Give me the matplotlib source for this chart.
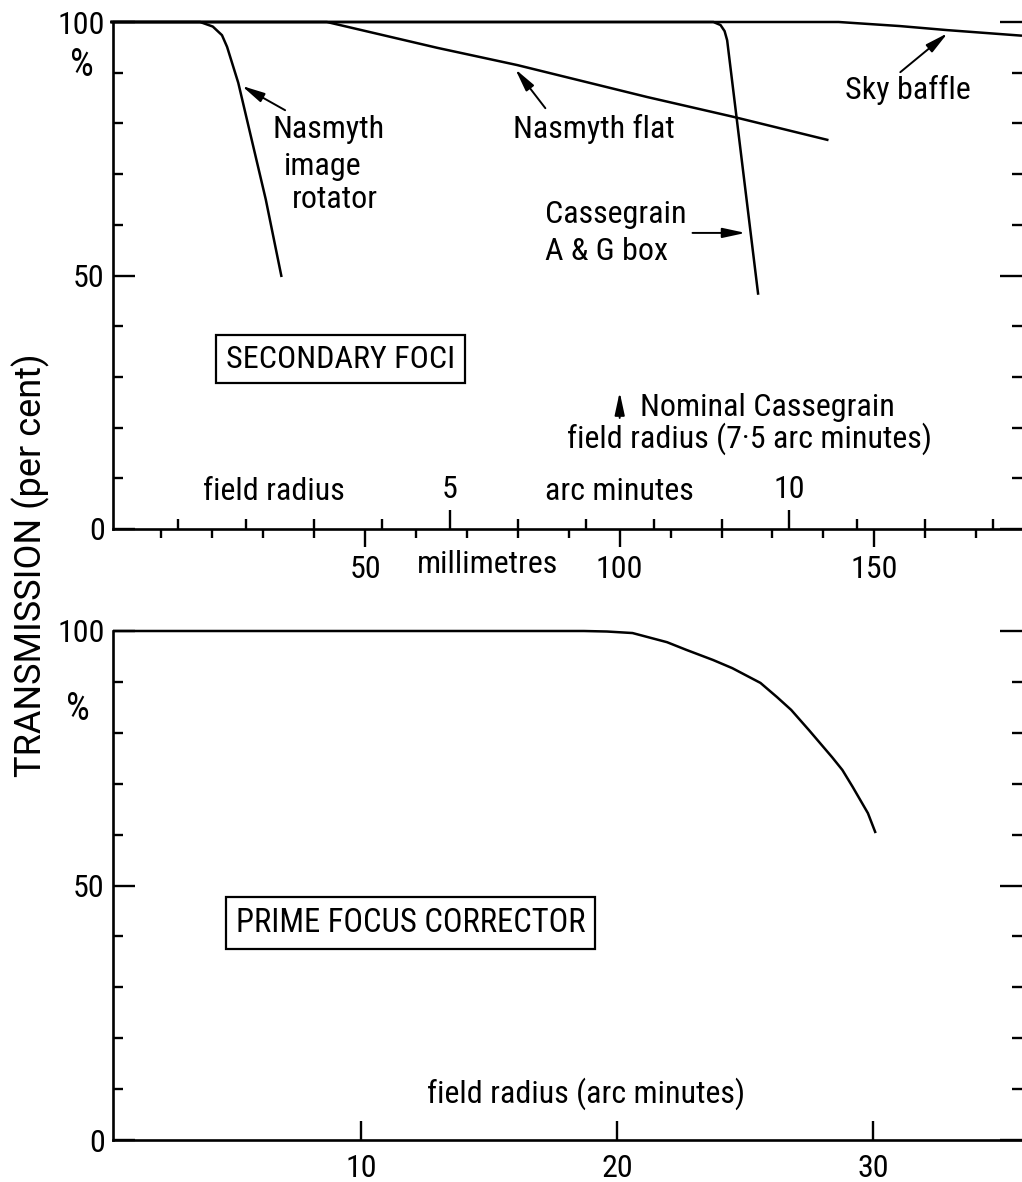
import matplotlib
matplotlib.use('Agg')
import matplotlib.pyplot as plt
from matplotlib import font_manager as fm
from matplotlib.ticker import MultipleLocator, FixedLocator, NullLocator


def font_available(name):
    try:
        fm.findfont(fm.FontProperties(family=name), fallback_to_default=False)
        return True
    except ValueError:
        return False


# pick the narrowest available sans face, with a size matching the drawing's lettering
for fam, fs in [('Liberation Sans Narrow', 23), ('Roboto Condensed', 23),
                ('Roboto', 21), ('DejaVu Sans', 19.5)]:
    if font_available(fam):
        FONT, FS = fam, fs
        break

# the vertical axis title is more widely set in the drawing
for fam, fs in [('Roboto', 26), ('DejaVu Sans', 25)]:
    if font_available(fam):
        YLAB_FONT, YLAB_FS = fam, fs
        break

plt.rcParams['font.family'] = [FONT, 'DejaVu Sans']
plt.rcParams['font.size'] = FS

MM_PER_ARCMIN = 13.333

# ---- Secondary foci (x in millimetres, y transmission %) ----
rotator_x = [0, 17.6, 20.1, 21.9, 22.9, 25.1, 30.5, 33.6]
rotator_y = [100, 100, 99.1, 97.4, 95.1, 88.0, 65.0, 49.7]

flat_x = [0, 42.5, 64.2, 79.9, 105.4, 122.3, 141.0]
flat_y = [100, 100, 94.9, 91.5, 85.2, 81.3, 76.7]

cass_x = [0, 118.4, 119.8, 120.6, 121.1, 124.1, 127.2]
cass_y = [100, 100, 99.4, 98.2, 96.4, 71.7, 46.2]

sky_x = [0, 143, 155, 164.3, 179]
sky_y = [100, 100, 99.2, 98.4, 97.3]

# ---- Prime focus corrector (x in arc minutes) ----
prime_x = [0.3, 18.7, 19.6, 20.6, 21.95, 22.7, 23.75, 24.5, 25.6, 26.25, 26.8,
           27.5, 28.4, 28.8, 29.2, 29.8, 30.1]
prime_y = [100, 100, 99.9, 99.6, 97.8, 96.3, 94.3, 92.7, 89.8, 87.0, 84.5,
           80.5, 75.2, 72.7, 69.4, 64.2, 60.3]

y_major = [0, 50, 100]
mm_major = [50, 100, 150]
arcmin_major = [5, 10]
prime_major = [10, 20, 30]
nominal_field_arcmin = 7.5

W, H = 1022, 1182
fig = plt.figure(figsize=(W / 100, H / 100), dpi=100)
ax1 = fig.add_axes([113 / W, 1 - 529 / H, 909 / W, 507 / H])
ax2 = fig.add_axes([113 / W, 1 - 1140 / H, 909 / W, 509 / H])

line_kw = dict(color='black', lw=1.8, clip_on=False, solid_capstyle='butt',
               solid_joinstyle='round')
for xs, ys in [(rotator_x, rotator_y), (flat_x, flat_y), (cass_x, cass_y), (sky_x, sky_y)]:
    ax1.plot(xs, ys, **line_kw)
ax2.plot(prime_x, prime_y, **line_kw)

ax1.set_xlim(0.5, 179)
ax1.set_ylim(0, 100)
ax2.set_xlim(0.3, 35.82)
ax2.set_ylim(0, 100)

for ax in (ax1, ax2):
    ax.spines['top'].set_visible(False)
    ax.spines['right'].set_visible(False)
    ax.spines['left'].set_linewidth(1.9)
    ax.spines['bottom'].set_linewidth(1.9)
    ax.yaxis.set_major_locator(FixedLocator(y_major))
    ax.yaxis.set_minor_locator(MultipleLocator(10))
    ax.yaxis.set_ticks_position('both')
    ax.tick_params(axis='y', which='major', direction='in', length=16, width=1.7,
                   pad=6, labelsize=FS)
    ax.tick_params(axis='y', which='minor', direction='in', length=7, width=1.7)

# top panel: millimetre scale (ticks down)
ax1.xaxis.set_major_locator(FixedLocator(mm_major))
ax1.xaxis.set_minor_locator(MultipleLocator(10))
ax1.tick_params(axis='x', which='major', direction='out', length=13, width=1.7,
                pad=6, labelsize=FS)
ax1.tick_params(axis='x', which='minor', direction='out', length=6.5, width=1.7)

# top panel: arc-minute scale (ticks up, labels above)
sec = ax1.secondary_xaxis(0.0, functions=(lambda x: x / MM_PER_ARCMIN,
                                          lambda a: a * MM_PER_ARCMIN))
sec.set_alignment('top')
sec.xaxis.set_major_locator(FixedLocator(arcmin_major))
sec.xaxis.set_minor_locator(MultipleLocator(1))
sec.tick_params(axis='x', which='major', direction='out', length=14, width=1.7,
                pad=4, labelsize=FS)
sec.tick_params(axis='x', which='minor', direction='out', length=7, width=1.7)
for sp in sec.spines.values():
    sp.set_visible(False)

# bottom panel x ticks
ax2.xaxis.set_major_locator(FixedLocator(prime_major))
ax2.xaxis.set_minor_locator(NullLocator())
ax2.tick_params(axis='x', which='major', direction='in', length=14, width=1.7,
                pad=10, labelsize=FS)

# ---- annotations, top panel ----
txt = dict(fontsize=FS, ha='left', va='baseline')
ax1.text(31.9, 77.1, 'Nasmyth', **txt)
ax1.text(34.1, 69.8, 'image', **txt)
ax1.text(35.7, 63.3, 'rotator', **txt)
ax1.text(79.1, 77.1, 'Nasmyth flat', **txt)
ax1.text(144.3, 84.8, 'Sky baffle', **txt)
ax1.text(85.4, 60.4, 'Cassegrain', **txt)
ax1.text(85.4, 53.1, 'A & G box', **txt)
ax1.text(104.0, 22.3, 'Nominal Cassegrain', **txt)
ax1.text(89.7, 16.0, 'field radius (7·5 arc minutes)', **txt)
ax1.text(18.2, 5.7, 'field radius', **txt)
ax1.text(85.4, 5.7, 'arc minutes', **txt)
ax1.text(60.2, -8.7, 'millimetres', clip_on=False, **txt)
ax1.text(-5.6, 91.5, '%', ha='center', va='center', fontsize=FS + 4, clip_on=False)
ax1.text(45.2, 33.5, 'SECONDARY FOCI', ha='center', va='center', fontsize=FS,
         bbox=dict(boxstyle='square,pad=0.3', fc='white', ec='black', lw=1.6))

arrow_kw = dict(arrowstyle='-|>,head_length=0.6,head_width=0.13', color='black',
                lw=1.4, shrinkA=0, shrinkB=0)
ax1.annotate('', xy=(25.8, 87.4), xytext=(34.3, 82.6), arrowprops=arrow_kw)
ax1.annotate('', xy=(79.5, 90.7), xytext=(85.4, 83.0), arrowprops=arrow_kw)
ax1.annotate('', xy=(164.4, 97.8), xytext=(155.1, 90.1), arrowprops=arrow_kw)
ax1.annotate('', xy=(124.7, 58.4), xytext=(114.3, 58.4), arrowprops=arrow_kw)
nom_mm = nominal_field_arcmin * MM_PER_ARCMIN
ax1.annotate('', xy=(nom_mm, 27.0), xytext=(nom_mm, 21.9), arrowprops=arrow_kw)

# ---- annotations, bottom panel ----
ax2.text(11.93, 42.6, 'PRIME FOCUS CORRECTOR', ha='center', va='center', fontsize=FS + 0.5,
         bbox=dict(boxstyle='square,pad=0.3', fc='white', ec='black', lw=1.6))
ax2.text(12.58, 7.3, 'field radius (arc minutes)', **txt)
ax2.text(-1.09, 84.5, '%', ha='center', va='center', fontsize=FS + 4, clip_on=False)

fig.text(31 / W, 1 - 565 / H, 'TRANSMISSION (per cent)', rotation=90,
         ha='center', va='center', fontsize=YLAB_FS, family=[YLAB_FONT, 'DejaVu Sans'])

fig.savefig('out.png', dpi=100, facecolor='white')
